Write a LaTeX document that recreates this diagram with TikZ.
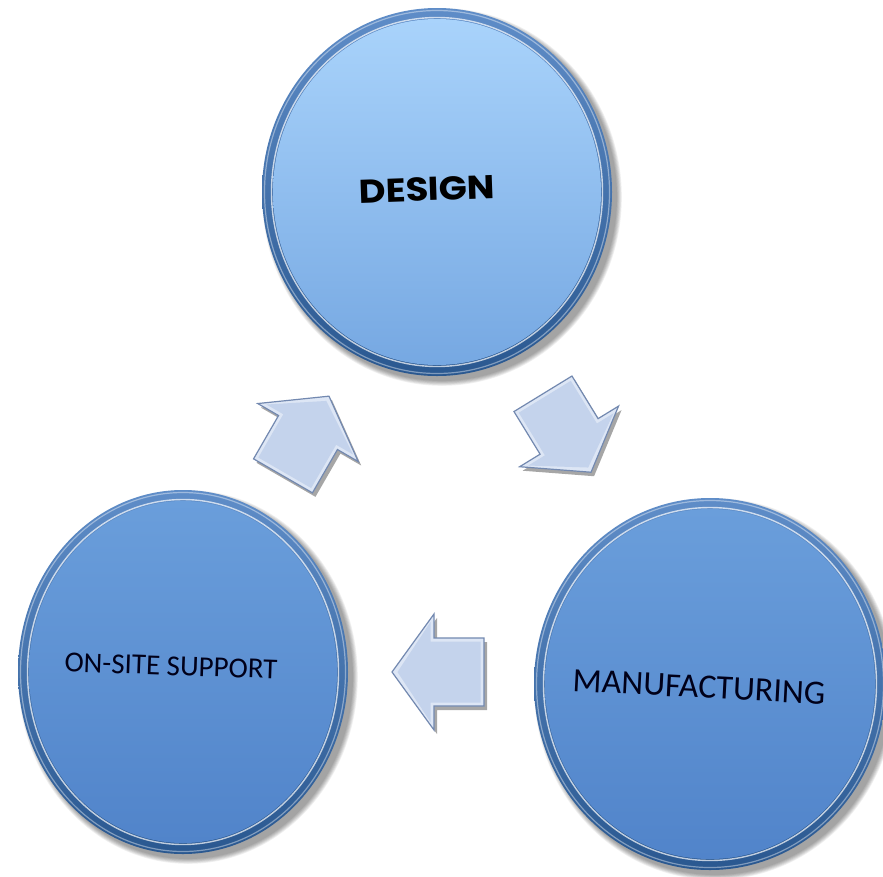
\documentclass[tikz,border=0pt]{standalone}
\usepackage{fontspec}
\setmainfont{Carlito}
\newfontfamily\headfont[FakeStretch=1.12]{Poppins}

\definecolor{rimtop}{HTML}{5F8DC8}
\definecolor{rimbot}{HTML}{2A5890}
\definecolor{lighttop}{HTML}{A9D3FB}
\definecolor{lightbot}{HTML}{76A8E2}
\definecolor{midtop}{HTML}{6A9EDB}
\definecolor{midbot}{HTML}{5184CA}
\definecolor{arrowface}{HTML}{C4D3EC}
\definecolor{arrowrim}{HTML}{DDE6F5}
\definecolor{arrowline}{HTML}{7389B0}

% a glossy disc: centre x, centre y, x radius, y radius, face top colour, face bottom colour
\newcommand\glossydisc[6]{%
  \foreach \k in {0,...,6}{%
    \fill[black, opacity=0.06] (#1+5,#2+5) ellipse [x radius=#3+\k*0.8, y radius=#4+\k*0.8];
  }
  \shade[top color=rimtop, bottom color=rimbot] (#1,#2) ellipse [x radius=#3, y radius=#4];
  \draw[white, opacity=0.4, line width=1.2] (#1,#2) ellipse [x radius=#3-2.5, y radius=#4-2.5];
  \draw[white, opacity=0.7, line width=1.4] (#1,#2) ellipse [x radius=#3-9.5, y radius=#4-9.5];
  \shade[top color=#5, bottom color=#6] (#1,#2) ellipse [x radius=#3-11, y radius=#4-11];
}

% a bevelled block arrow: centre x, centre y, direction angle
\newcommand\bevelarrow[3]{%
  \begin{scope}[shift={(#1+3,#2+4)}, rotate=#3]
    \fill[black, opacity=0.35]
      (-46,-34) -- (4,-34) -- (4,-58) -- (46,0) -- (4,58) -- (4,34) -- (-46,34) -- cycle;
  \end{scope}
  \begin{scope}[shift={(#1,#2)}, rotate=#3]
    \filldraw[fill=arrowrim, draw=arrowline, line width=1.2, line join=miter]
      (-46,-34) -- (4,-34) -- (4,-58) -- (46,0) -- (4,58) -- (4,34) -- (-46,34) -- cycle;
    \fill[arrowface]
      (-42.5,-30.5) -- (7.5,-30.5) -- (7.5,-50) -- (40.5,0) -- (7.5,50) -- (7.5,30.5) -- (-42.5,30.5) -- cycle;
  \end{scope}
}

\tikzset{
  headlabel/.style={font=\headfont\bfseries\fontsize{33}{38}\selectfont, text=black, inner sep=0pt},
  bodylabel/.style={font=\fontsize{29}{34}\selectfont, text=black!90!blue, inner sep=0pt},
}

\begin{document}
\begin{tikzpicture}[x=1pt, y=-1pt]
  \useasboundingbox (0,0) rectangle (883,876);
  \fill[white] (0,0) rectangle (883,876);

  % the three stages
  \glossydisc{437}{192}{175}{184}{lighttop}{lightbot}
  \glossydisc{183}{672}{165}{182}{midtop}{midbot}
  \glossydisc{710}{684}{176}{186}{midtop}{midbot}

  \node[headlabel, rotate=2] (design) at (427,189) {DESIGN};
  \node[bodylabel, rotate=-2] (onsite) at (171,666) {ON-SITE SUPPORT};
  \node[bodylabel, font=\fontsize{34}{39}\selectfont, rotate=-3] (manufacturing) at (699,687) {MANUFACTURING};

  % flow between the stages
  \coordinate (toDesign) at (306,436);
  \coordinate (toManufacturing) at (567,433);
  \coordinate (toSupport) at (438,672);
  \bevelarrow{306}{436}{60}
  \bevelarrow{567}{433}{-58.5}
  \bevelarrow{438}{672}{180}
\end{tikzpicture}
\end{document}
